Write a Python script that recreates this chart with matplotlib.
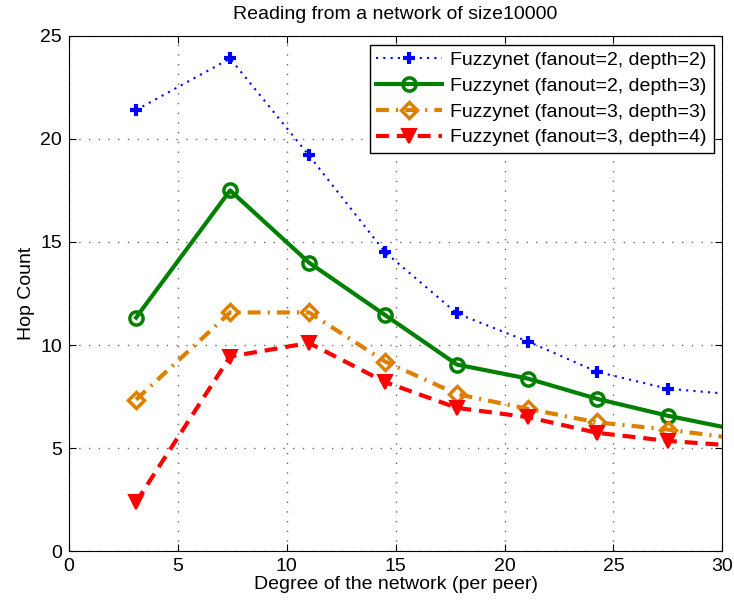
import matplotlib
matplotlib.use('Agg')
import matplotlib.pyplot as plt

plt.rcParams['font.family'] = ['Liberation Sans', 'DejaVu Sans']

degree = [3.08, 7.40, 11.02, 14.52, 17.82, 21.08, 24.25, 27.5, 30.8]

hops_f2_d2 = [21.4, 23.9, 19.2, 14.5, 11.53, 10.17, 8.7, 7.88, 7.58]
hops_f2_d3 = [11.33, 17.5, 14.0, 11.45, 9.05, 8.37, 7.39, 6.57, 5.86]
hops_f3_d3 = [7.35, 11.58, 11.58, 9.2, 7.62, 6.9, 6.25, 5.9, 5.44]
hops_f3_d4 = [2.38, 9.44, 10.1, 8.2, 6.95, 6.5, 5.74, 5.35, 5.1]

labels = [
    'Fuzzynet (fanout=2, depth=2)',
    'Fuzzynet (fanout=2, depth=3)',
    'Fuzzynet (fanout=3, depth=3)',
    'Fuzzynet (fanout=3, depth=4)',
]


def main():
    fig = plt.figure(figsize=(7.34, 6.07), dpi=100)
    ax = fig.add_axes([0.094, 0.092, 0.89, 0.849])

    ax.plot(degree, hops_f2_d2, color='#0000FF', linestyle=(0, (1, 2.5)), linewidth=1.5,
            marker='+', markersize=9, markeredgewidth=3, label=labels[0])
    ax.plot(degree, hops_f2_d3, color='#008000', linestyle='-', linewidth=3,
            marker='o', markersize=9.5, markerfacecolor='none', markeredgewidth=2.5,
            label=labels[1])
    ax.plot(degree, hops_f3_d3, color='#DD8000', linestyle=(0, (3.1, 1.7, 0.5, 1.7)),
            linewidth=3, marker='D', markersize=8, markerfacecolor='none',
            markeredgewidth=2.5, label=labels[2])
    ax.plot(degree, hops_f3_d4, color='#FF0000', linestyle=(0, (3.1, 1.9)), linewidth=3,
            marker='v', markersize=10.5, markerfacecolor='#FF0000',
            markeredgewidth=1.5, label=labels[3])

    ax.set_xlim(0, 30)
    ax.set_ylim(0, 25)
    ax.set_xticks([0, 5, 10, 15, 20, 25, 30])
    ax.set_yticks([0, 5, 10, 15, 20, 25])
    ax.tick_params(direction='in', top=True, right=True, labelsize=14, length=5, pad=5)
    ax.grid(True, linestyle=(0, (1, 6)), color='0.4', linewidth=1)

    ax.set_xlabel('Degree of the network (per peer)', fontsize=14, labelpad=1)
    ax.set_ylabel('Hop Count', fontsize=14, labelpad=4)
    ax.set_title('Reading from a network of size10000', fontsize=14, pad=12)

    leg = ax.legend(loc='upper right', fontsize=14, handlelength=3.4,
                    borderaxespad=0.45, fancybox=False, framealpha=1,
                    borderpad=0.35, labelspacing=0.42, handletextpad=0.4)
    leg.get_frame().set_edgecolor('black')
    leg.get_frame().set_linewidth(1)

    fig.savefig('out.png', dpi=100, facecolor='w')
    plt.close('all')


if __name__ == '__main__':
    main()
